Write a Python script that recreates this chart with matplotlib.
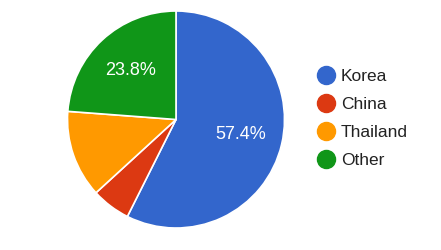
import matplotlib
matplotlib.use("Agg")
import matplotlib.pyplot as plt
from matplotlib.lines import Line2D

labels = ["Korea", "China", "Thailand", "Other"]
shares = [57.4, 5.8, 13.0, 23.8]
colors = ["#3366CC", "#DC3912", "#FF9900", "#109618"]

plt.rcParams["font.family"] = ["Liberation Sans", "DejaVu Sans"]

W, H = 441, 250
fig = plt.figure(figsize=(W / 100, H / 100), dpi=100)

# pie axes placed so the circle sits where it does in the reference
cx, cy, r = 176, 119.5, 108.5
ax = fig.add_axes([(cx - r) / W, (H - cy - r) / H, 2 * r / W, 2 * r / H])


def fmt(p):
    return f"{p:.1f}%" if p > 20 else ""


wedges, texts, autotexts = ax.pie(
    shares,
    colors=colors,
    startangle=90,
    counterclock=False,
    radius=1,
    autopct=fmt,
    pctdistance=0.61,
    wedgeprops=dict(edgecolor="white", linewidth=1.2),
    textprops=dict(color="white", fontsize=13),
)
ax.set_xlim(-1, 1)
ax.set_ylim(-1, 1)
ax.axis("off")

handles = [
    Line2D([], [], marker="o", linestyle="", markersize=13,
           markerfacecolor=c, markeredgecolor=c)
    for c in colors
]
fig.legend(
    handles, labels,
    loc="upper left",
    bbox_to_anchor=(317 / W, 1 - 69 / H),
    frameon=False,
    fontsize=12.5,
    labelcolor="#222222",
    handlelength=1.0,
    handletextpad=0.38,
    labelspacing=0.74,
    borderpad=0,
    borderaxespad=0,
)

fig.savefig("out.png", dpi=100)
